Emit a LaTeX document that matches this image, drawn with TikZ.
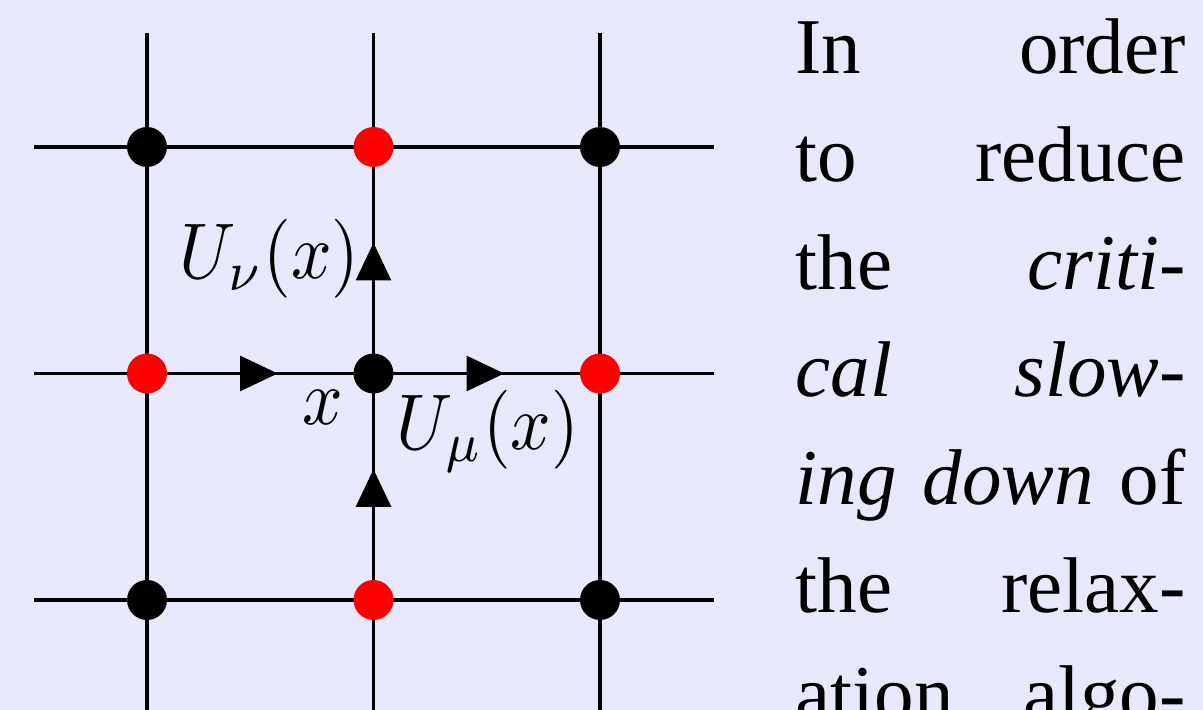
\documentclass[tikz,border=0pt]{standalone}
\usepackage{fontspec}
\usepackage{graphicx}
\setmainfont{Liberation Serif}
\usetikzlibrary{arrows.meta,decorations.markings}
\definecolor{bg}{RGB}{232,232,251}
\pgfdeclarelayer{back}
\pgfdeclarelayer{lines}
\pgfsetlayers{back,lines,main}
\newlength{\colw}
\setlength{\colw}{49.4pt}
\newcommand{\mlabel}[1]{\scalebox{0.9}[1]{$#1$}}
\begin{document}
\begin{tikzpicture}[x=0.12658pt,y=-0.12658pt,
  lat/.style={line width=0.4pt},
  site/.style={circle,fill=black,inner sep=0pt,minimum size=5.06pt},
  redsite/.style={site,fill=red},
  link/.style={lat,postaction={decorate},
    decoration={markings,mark=at position 16.55pt with {\arrow{Triangle[length=4.75pt,width=4.4pt]}}}},
  lbl/.style={inner sep=0pt},
  txt/.style={inner sep=0pt,anchor=base west}]
\useasboundingbox (0,0) rectangle (1203,710);
\begin{pgfonlayer}{back}
\fill[bg] (0,0) rectangle (1203,710);
\end{pgfonlayer}
% sites
\node[site]    (a11) at (147,147) {};
\node[redsite] (a12) at (373.5,147) {};
\node[site]    (a13) at (600,147) {};
\node[redsite] (a21) at (147,373.5) {};
\node[site]    (a22) at (373.5,373.5) {};
\node[redsite] (a23) at (600,373.5) {};
\node[site]    (a31) at (147,600) {};
\node[redsite] (a32) at (373.5,600) {};
\node[site]    (a33) at (600,600) {};
% free ends
\coordinate (L1) at (34,147);   \coordinate (R1) at (714,147);
\coordinate (L2) at (34,373.5); \coordinate (R2) at (714,373.5);
\coordinate (L3) at (34,600);   \coordinate (R3) at (714,600);
\coordinate (T1) at (147,33);   \coordinate (B1) at (147,710);
\coordinate (T2) at (373.5,33); \coordinate (B2) at (373.5,710);
\coordinate (T3) at (600,33);   \coordinate (B3) at (600,710);
\begin{pgfonlayer}{lines}
\draw[lat] (L1) -- (a11.center) -- (a12.center) -- (a13.center) -- (R1);
\draw[lat] (L3) -- (a31.center) -- (a32.center) -- (a33.center) -- (R3);
\draw[lat] (L2) -- (a21.center);
\draw[link] (a21.center) -- (a22.center);
\draw[link] (a22.center) -- (a23.center);
\draw[lat] (a23.center) -- (R2);
\draw[lat] (T1) -- (a11.center) -- (a21.center) -- (a31.center) -- (B1);
\draw[lat] (T3) -- (a13.center) -- (a23.center) -- (a33.center) -- (B3);
\draw[lat] (T2) -- (a12.center);
\draw[link] (a22.center) -- (a12.center);
\draw[link] (a32.center) -- (a22.center);
\draw[lat] (a32.center) -- (B2);
\end{pgfonlayer}
% labels
\node[lbl,anchor=base east] (lnu) at (361,279) {\mlabel{U_\nu(x)}};
\node[lbl,anchor=base] (lx) at (323,425) {\mlabel{x}};
\node[lbl,anchor=base west] (lmu) at (395,450) {\mlabel{U_\mu(x)}};
% text column
\node[txt] (t1) at (794,74)  {\hbox to \colw{In\hfill order}};
\node[txt] (t2) at (794,182) {\hbox to \colw{to\hfill reduce}};
\node[txt] (t3) at (794,290) {\hbox to \colw{the\hfill \textit{criti-}}};
\node[txt] (t4) at (794,397) {\hbox to \colw{\textit{cal}\hfill \textit{slow-}}};
\node[txt] (t5) at (794,505) {\hbox to \colw{\textit{ing}\hfill\textit{down}\hfill of}};
\node[txt] (t6) at (794,613) {\hbox to \colw{the\hfill relax-}};
\node[txt] (t7) at (794,721) {\hbox to \colw{ation\hfill algo-}};
\end{tikzpicture}
\end{document}
